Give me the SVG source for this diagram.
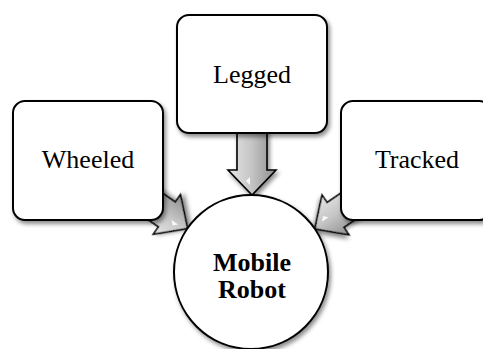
<svg xmlns="http://www.w3.org/2000/svg" width="483" height="349" viewBox="0 0 483 349">
  <style>
    .box { fill: #ffffff; stroke: #000000; stroke-width: 2; filter: url(#shadow); }
    .hub { fill: #ffffff; stroke: #000000; stroke-width: 2; filter: url(#shadow); }
    .label { font-family: "Liberation Serif", "Times New Roman", serif; font-size: 26px; fill: #000000; text-anchor: middle; }
    .bold { font-weight: bold; }
    .arrow { fill: url(#arrowFill); stroke: #000000; stroke-width: 1.6; stroke-linejoin: miter; filter: url(#shadow); }
    .glint { fill: #ffffff; opacity: 0.85; }
  </style>
  <defs>
    <filter id="shadow" x="-20%" y="-20%" width="140%" height="140%">
      <feDropShadow dx="2" dy="3" stdDeviation="2" flood-color="#000000" flood-opacity="0.45"/>
    </filter>
    <linearGradient id="arrowFill" gradientUnits="userSpaceOnUse" x1="-24" y1="0" x2="24" y2="0">
      <stop offset="0" stop-color="#e6e6e6"/>
      <stop offset="0.5" stop-color="#c4c4c4"/>
      <stop offset="1" stop-color="#8e8e8e"/>
    </linearGradient>
    <!-- block arrow pointing down, tip at origin -->
    <g id="blockArrow">
      <polygon class="arrow" points="-15,-72 15,-72 15,-25 24,-25 0,0 -24,-25 -15,-25"/>
      <polygon class="glint" points="-6,-14 -2,-18 -2,-10"/>
    </g>
  </defs>

  <!-- connectors: drawn first so the boxes sit on top -->
  <g id="connectors">
    <use href="#blockArrow" transform="translate(187.5,228.5) rotate(-55.6)"/>
    <use href="#blockArrow" transform="translate(252,195)"/>
    <use href="#blockArrow" transform="translate(314.8,228.9) rotate(55.9)"/>
  </g>

  <g id="wheeled">
    <rect class="box" x="13" y="101" width="150" height="119" rx="12" ry="12"/>
    <text class="label" x="88" y="168">Wheeled</text>
  </g>

  <g id="legged">
    <rect class="box" x="177" y="15" width="150" height="118" rx="12" ry="12"/>
    <text class="label" x="252" y="83">Legged</text>
  </g>

  <g id="tracked">
    <rect class="box" x="341" y="101" width="150" height="119" rx="12" ry="12"/>
    <text class="label" x="417" y="168">Tracked</text>
  </g>

  <g id="mobile-robot">
    <circle class="hub" cx="251" cy="272" r="77"/>
    <text class="label bold" x="252" y="271">Mobile</text>
    <text class="label bold" x="252" y="298">Robot</text>
  </g>
</svg>
